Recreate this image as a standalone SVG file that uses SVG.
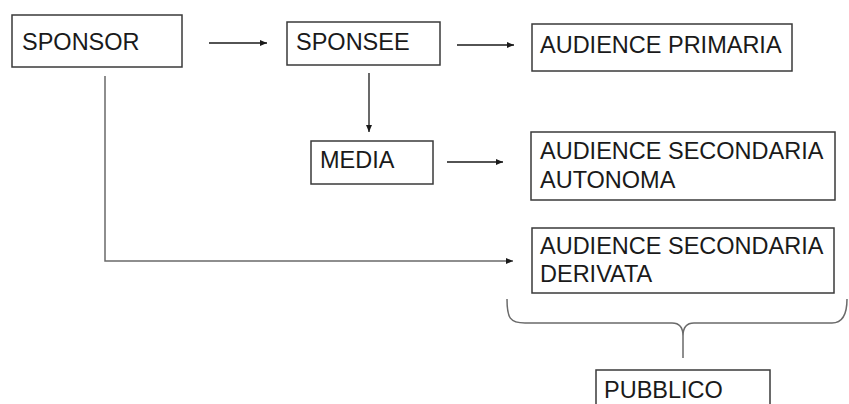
<svg xmlns="http://www.w3.org/2000/svg" width="849" height="404" viewBox="0 0 849 404">
<style>
.box{fill:#fff;stroke:#3a3a3a;stroke-width:1.5}
.t{font-family:"Liberation Sans",Arial,sans-serif;font-size:23.5px;fill:#1a1a1a}
.c{fill:none;stroke:#1a1a1a;stroke-width:1.3}
.g{fill:none;stroke:#6a6a6a;stroke-width:1.5}
</style>
<defs>
<marker id="ah" markerWidth="8" markerHeight="8" refX="7" refY="4" orient="auto" markerUnits="userSpaceOnUse">
<path d="M0,1 L7,4 L0,7 Z" fill="#1a1a1a"/>
</marker>
</defs>
<rect width="849" height="404" fill="#fff"/>
<g id="connectors">
<line class="c" x1="209" y1="43" x2="267" y2="43" marker-end="url(#ah)"/>
<line class="c" x1="457" y1="45" x2="514" y2="45" marker-end="url(#ah)"/>
<line class="c" x1="369" y1="73" x2="369" y2="132" marker-end="url(#ah)"/>
<line class="c" x1="447" y1="162" x2="503" y2="162" marker-end="url(#ah)"/>
<polyline class="g" points="105,76 105,261 513,261" marker-end="url(#ah)"/>
<path class="g" d="M507,299 C507,318 510,323 525,323 L672,323 Q683,323 683,336 L683,358 M683,336 Q683,323 694,323 L832,323 Q847,323 847,299"/>
</g>
<g id="sponsor">
<rect class="box" x="12" y="15" width="170" height="52"/>
<text class="t" x="22" y="50">SPONSOR</text>
</g>
<g id="sponsee">
<rect class="box" x="287" y="22" width="153" height="43"/>
<text class="t" x="296" y="50">SPONSEE</text>
</g>
<g id="audience-primaria">
<rect class="box" x="532" y="24" width="260" height="47"/>
<text class="t" x="540" y="53">AUDIENCE PRIMARIA</text>
</g>
<g id="media">
<rect class="box" x="311" y="141" width="122" height="43"/>
<text class="t" x="320" y="168">MEDIA</text>
</g>
<g id="audience-autonoma">
<rect class="box" x="531" y="132" width="304" height="68"/>
<text class="t" x="540" y="159">AUDIENCE SECONDARIA</text>
<text class="t" x="540" y="188">AUTONOMA</text>
</g>
<g id="audience-derivata">
<rect class="box" x="532" y="228" width="302" height="65"/>
<text class="t" x="540" y="254">AUDIENCE SECONDARIA</text>
<text class="t" x="540" y="282">DERIVATA</text>
</g>
<g id="pubblico">
<rect class="box" x="596" y="370" width="174" height="40"/>
<text class="t" x="604" y="398">PUBBLICO</text>
</g>
</svg>
